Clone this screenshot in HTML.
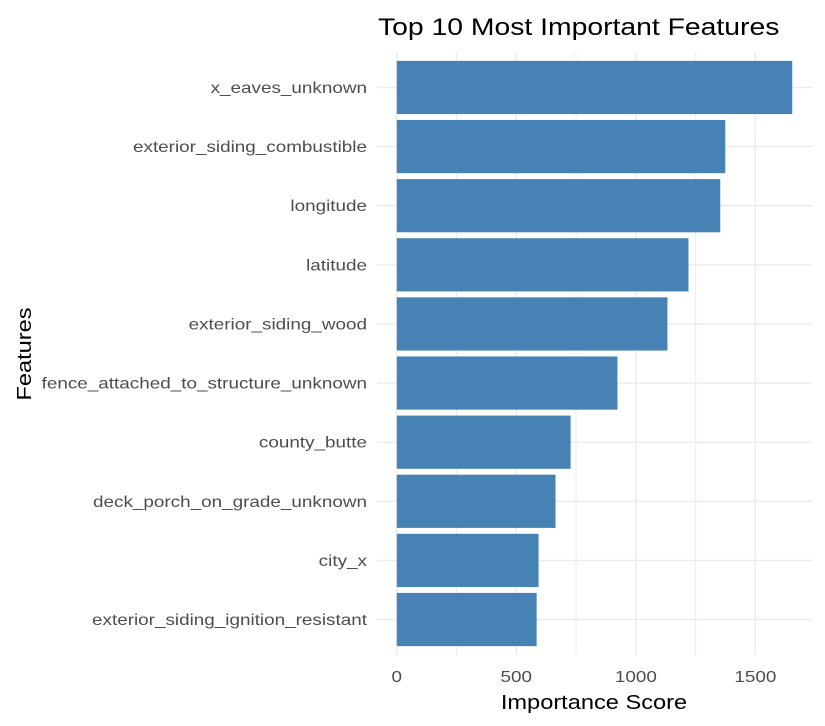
<!DOCTYPE html>
<html><head><meta charset="utf-8"><style>
body{margin:0;background:#fff;}
svg{display:block;font-family:"Liberation Sans",Arial,sans-serif;}
</style></head><body>
<svg id="chart" width="825" height="726">
<rect width="825" height="726" fill="#fff"/>
<g id="grid"></g>
<g id="bars"></g>
<g id="ylabels"></g>
<g id="xlabels"></g>
<text class="w" x="378" y="35" font-size="24" fill="#000">Top 10 Most Important Features</text>
<text class="w" x="594" y="709" font-size="20" text-anchor="middle" fill="#000">Importance Score</text>
<text class="w" transform="translate(31,354) rotate(-90)" font-size="20" text-anchor="middle" fill="#000">Features</text>
</svg>
<script>
const categories = ["x_eaves_unknown","exterior_siding_combustible","longitude","latitude","exterior_siding_wood","fence_attached_to_structure_unknown","county_butte","deck_porch_on_grade_unknown","city_x","exterior_siding_ignition_resistant"];
const values = [1654,1374,1353,1220,1132,923,727,664,593,585];
const xTicks = [0,500,1000,1500];
const xTickLabels = ["0","500","1000","1500"];

const NS="http://www.w3.org/2000/svg";
const pL=377,pR=812,pT=52,pB=655;
const xmax=Math.max(...values)*1.05, xmin=-Math.max(...values)*0.05;
function xs(v){return pL+(v-xmin)/(xmax-xmin)*(pR-pL);}
const n=categories.length, step=(pB-pT)/(n-1+1.2);
function ys(i){return pT+step*(0.6+i);}
const bh=step*0.9;
function mk(tag,attrs,parent){const e=document.createElementNS(NS,tag);for(const k in attrs)e.setAttribute(k,attrs[k]);parent.appendChild(e);return e;}
const grid=document.getElementById('grid'),bars=document.getElementById('bars'),yl=document.getElementById('ylabels'),xl=document.getElementById('xlabels');
for(let i=0;i<xTicks.length;i++){
  const mid=xTicks[i]+250;
  if(xs(mid)<pR){const m=mk('line',{x1:xs(mid),x2:xs(mid),y1:pT,y2:pB,stroke:'#ebebeb','stroke-width':1},grid);
  
  }
}
xTicks.forEach((t,i)=>{
  const l=mk('line',{x1:xs(t),x2:xs(t),y1:pT,y2:pB,stroke:'#ebebeb','stroke-width':1.4},grid);
  
  
  const tx=mk('text',{x:xs(t),y:682,'font-size':16,'text-anchor':'middle',fill:'#4d4d4d','class':'w'},xl);
  tx.textContent=xTickLabels[i];
  
  
});
categories.forEach((c,i)=>{
  const y=ys(i);
  const g=mk('line',{x1:pL,x2:pR,y1:y,y2:y,stroke:'#ebebeb','stroke-width':1.4},grid);
  
  
  const r=mk('rect',{x:xs(0),y:y-bh/2,width:xs(values[i])-xs(0),height:bh,fill:'#4682b4'},bars);
  
  
  const t=mk('text',{x:367,y:y+5.5,'font-size':16,'text-anchor':'end',fill:'#4d4d4d','class':'w'},yl);
  t.textContent=c;
  
  
});
document.querySelectorAll('text.w').forEach(t=>{
  const L=t.getComputedTextLength();
  t.setAttribute('textLength',(L*1.18).toFixed(1));
  t.setAttribute('lengthAdjust','spacingAndGlyphs');
});
</script>
</body></html>
